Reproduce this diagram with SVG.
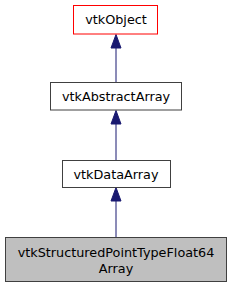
<svg xmlns="http://www.w3.org/2000/svg" width="232" height="288" viewBox="0 0 232 288">
<style>
.box{fill:#ffffff;stroke:#404040;stroke-width:1}
.cur{fill:#bfbfbf;stroke:#404040;stroke-width:1}
.t{font-family:"DejaVu Sans",sans-serif;font-size:12.8px;fill:#000;text-anchor:middle}
.e{stroke:midnightblue;stroke-width:1;fill:none}
.h{fill:midnightblue;stroke:midnightblue;stroke-width:1}
</style>
<rect width="232" height="288" fill="#ffffff"/>
<g id="edges">
<path class="e" d="M116,237 V201"/><polygon class="h" points="116,187.5 111,201 121,201"/>
<path class="e" d="M116,160 V124"/><polygon class="h" points="116,110.5 111,124 121,124"/>
<path class="e" d="M116,82 V48"/><polygon class="h" points="116,34.5 111,48 121,48"/>
</g>
<g id="vtkObject"><rect x="73.5" y="5.5" width="84" height="28.5" fill="#ffffff" stroke="#ff0000" stroke-width="1"/><text class="t" x="116" y="24">vtkObject</text></g>
<g id="vtkAbstractArray"><rect class="box" x="50.5" y="82.5" width="131" height="27.5"/><text class="t" x="116" y="100.5">vtkAbstractArray</text></g>
<g id="vtkDataArray"><rect class="box" x="62.5" y="160.5" width="108" height="27"/><text class="t" x="116" y="178.5">vtkDataArray</text></g>
<g id="vtkStructuredPointTypeFloat64Array"><rect class="cur" x="5.5" y="237.5" width="221" height="44"/><text class="t" x="116" y="256.5">vtkStructuredPointTypeFloat64</text><text class="t" x="116" y="272.5">Array</text></g>
</svg>
